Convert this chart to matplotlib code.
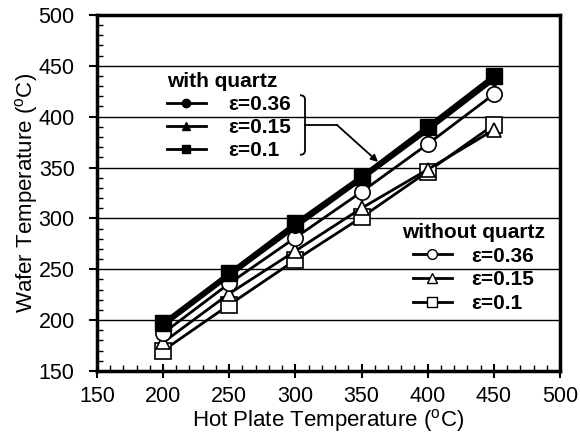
import numpy as np
import matplotlib
matplotlib.use('Agg')
import matplotlib.pyplot as plt
from matplotlib.lines import Line2D
from matplotlib.path import Path
from matplotlib.patches import PathPatch

plt.rcParams['font.family'] = ['Liberation Sans', 'DejaVu Sans']
plt.rcParams['mathtext.fontset'] = 'custom'
plt.rcParams['mathtext.rm'] = 'Liberation Sans'

# hot plate temperature (C)
hot_plate = [200, 250, 300, 350, 400, 450]

# wafer temperature, with quartz
wq_036 = [194, 243, 291, 338, 386, 436]
wq_015 = [195, 244, 293, 339, 388, 438]
wq_010 = [197, 246, 295, 341, 390, 440]

# wafer temperature, without quartz
nq_036 = [187, 236, 281, 326, 373, 422]
nq_015 = [178, 226, 268, 310, 348, 387]
nq_010 = [170, 215, 259, 301, 346, 392]

eps_labels = ['\u03b5=0.36', '\u03b5=0.15', '\u03b5=0.1']

fig = plt.figure(figsize=(5.8, 4.38), dpi=100)
ax = fig.add_axes([0.167, 0.153, 0.7985, 0.813])

# horizontal grid
for yy in range(200, 500, 50):
    ax.axhline(yy, color='k', lw=1.0, zorder=1)

# without quartz (open markers)
ax.plot(hot_plate, nq_010, color='k', lw=2, marker='s', ms=11, mfc='white', mec='k', mew=1.2, zorder=3)
ax.plot(hot_plate, nq_015, color='k', lw=2, marker='^', ms=10, mfc='white', mec='k', mew=1.2, zorder=3)
ax.plot(hot_plate, nq_036, color='k', lw=2, marker='o', ms=11, mfc='white', mec='k', mew=1.2, zorder=3)

# with quartz (filled markers)
ax.plot(hot_plate, wq_036, color='k', lw=2.2, marker='o', ms=7, zorder=4)
ax.plot(hot_plate, wq_015, color='k', lw=2.2, marker='^', ms=7, zorder=4)
ax.plot(hot_plate, wq_010, color='k', lw=3, marker='s', ms=12, zorder=5)

ax.set_xlim(150, 500)
ax.set_ylim(150, 500)
ax.set_xticks(np.arange(150, 501, 50))
ax.set_yticks(np.arange(150, 501, 50))
ax.set_xticks(np.arange(150, 501, 10), minor=True)
ax.set_yticks(np.arange(150, 501, 10), minor=True)
ax.tick_params(axis='x', which='major', direction='inout', length=10, width=1.5, labelsize=15.5, pad=6)
ax.tick_params(axis='x', which='minor', direction='in', length=4, width=1)
ax.tick_params(axis='y', which='major', direction='out', length=6, width=1.5, labelsize=15.5, pad=10)
ax.tick_params(axis='y', which='minor', direction='in', length=4, width=1)
for sp in ax.spines.values():
    sp.set_linewidth(2.5)

ax.set_xlabel(r'Hot Plate Temperature ($^{\rm o}$C)', fontsize=16, labelpad=0)
ax.set_ylabel(r'Wafer Temperature ($^{\rm o}$C)', fontsize=16, labelpad=-1)

# legends
leg_font = {'weight': 'bold', 'size': 15}
h1 = [Line2D([], [], color='k', lw=2, marker=m, ms=6) for m in ['o', '^', 's']]
leg1 = ax.legend(h1, eps_labels, title='with quartz', loc='upper left',
                 bbox_to_anchor=(0.151, 0.84), frameon=False, handlelength=1.87,
                 handletextpad=1.06, labelspacing=0.2, borderaxespad=0, borderpad=0,
                 prop=leg_font, title_fontproperties=leg_font, alignment='left')
ax.add_artist(leg1)

h2 = [Line2D([], [], color='k', lw=2, marker=m, ms=7, mfc='white') for m in ['o', '^', 's']]
ax.legend(h2, eps_labels, title='without quartz', loc='upper left',
          bbox_to_anchor=(0.659, 0.415), frameon=False, handlelength=1.87,
          handletextpad=0.95, labelspacing=0.22, borderaxespad=0, borderpad=0,
          prop=leg_font, title_fontproperties=leg_font)

# curly brace and arrow
bx, by_top, by_bot = 303.5, 421, 362.5
by_mid = (by_top + by_bot) / 2
w = 3.8
verts = [(bx, by_top), (bx + w, by_top), (bx + w, by_top - 4), (bx + w, by_mid + 5),
         (bx + w, by_mid + 1), (bx + w, by_mid), (bx + 2 * w, by_mid),
         (bx + w, by_mid), (bx + w, by_mid - 1), (bx + w, by_mid - 5),
         (bx + w, by_bot + 4), (bx + w, by_bot), (bx, by_bot)]
codes = [Path.MOVETO, Path.CURVE3, Path.CURVE3, Path.LINETO,
         Path.CURVE3, Path.CURVE3, Path.LINETO,
         Path.MOVETO, Path.CURVE3, Path.CURVE3, Path.LINETO,
         Path.CURVE3, Path.CURVE3]
ax.add_patch(PathPatch(Path(verts, codes), fill=False, lw=1.3, color='k', zorder=6))
ax.plot([bx + 2 * w, 331.5], [by_mid, by_mid], color='k', lw=1.3, zorder=6)
ax.annotate('', xy=(362.5, 355.5), xytext=(331.5, by_mid),
            arrowprops=dict(arrowstyle='-|>', color='k', lw=1.3, mutation_scale=10,
                            shrinkA=0, shrinkB=0), zorder=6)

fig.savefig('out.png', dpi=100)
